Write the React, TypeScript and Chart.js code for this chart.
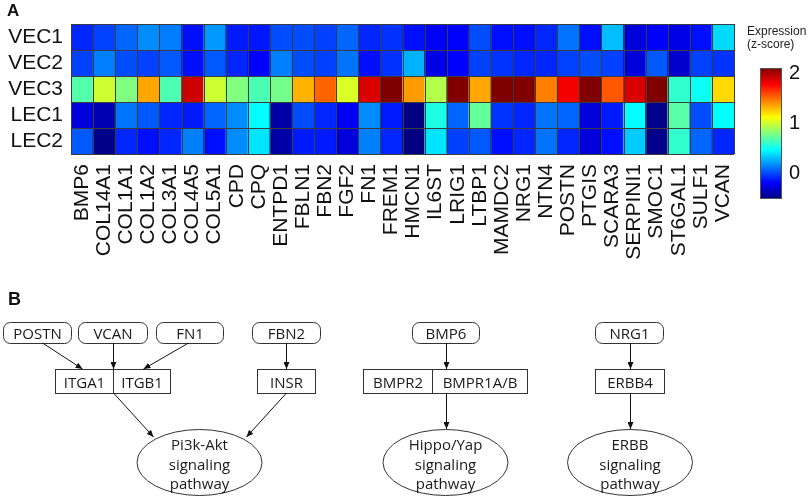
import React, { useEffect, useRef } from "react";
import { Chart, registerables } from "chart.js";

Chart.register(...registerables);

const genes = [
  "BMP6", "COL14A1", "COL1A1", "COL1A2", "COL3A1", "COL4A5", "COL5A1", "CPD", "CPQ", "ENTPD1",
  "FBLN1", "FBN2", "FGF2", "FN1", "FREM1", "HMCN1", "IL6ST", "LRIG1", "LTBP1", "MAMDC2",
  "NRG1", "NTN4", "POSTN", "PTGIS", "SCARA3", "SERPINI1", "SMOC1", "ST6GAL1", "SULF1", "VCAN",
];
const rowNames = ["VEC1", "VEC2", "VEC3", "LEC1", "LEC2"];

const vec1 = [-0.08, -0.01, 0.085, 0.18, 0.14, -0.14, 0.215, -0.11, -0.12, 0.02, 0.02, -0.01, 0.085, -0.08, -0.05, -0.14, -0.2, -0.175, 0.02, -0.14, -0.14, -0.08, 0.12, -0.14, 0.31, -0.27, -0.175, -0.24, -0.14, 0.38];
const vec2 = [-0.01, 0.15, 0.02, -0.01, 0.05, -0.14, 0.05, -0.08, -0.175, 0.15, 0.02, -0.01, 0.12, -0.14, -0.05, 0.28, -0.24, -0.175, -0.01, -0.045, -0.08, -0.08, -0.01, 0.02, -0.01, -0.27, 0.05, -0.3, -0.01, -0.045];
const vec3 = [0.69, 1.0, 0.8, 1.35, 0.67, 1.9, 1.0, 0.8, 0.66, 0.77, 1.32, 1.52, 1.03, 1.87, 2.1, 1.38, 0.93, 2.1, 1.35, 2.1, 2.1, 1.45, 1.8, 2.1, 1.55, 1.87, 2.1, 0.6, 0.5, 1.22];
const lec1 = [-0.27, -0.37, 0.12, 0.05, -0.08, -0.11, 0.085, 0.18, 0.475, -0.4, 0.02, -0.08, -0.2, 0.18, -0.11, -0.5, 0.55, 0.085, 0.73, -0.045, -0.08, 0.12, 0.085, -0.27, -0.11, 0.475, -0.47, 0.7, 0.02, 0.475];
const lec2 = [0.05, -0.47, -0.08, -0.14, -0.08, 0.15, -0.14, 0.18, 0.41, -0.4, -0.11, -0.11, -0.27, 0.15, -0.08, -0.5, 0.41, -0.01, 0.05, -0.14, -0.08, 0.12, -0.08, -0.27, -0.14, 0.345, -0.47, 0.6, 0.085, -0.08];
const rowValues = [vec1, vec2, vec3, lec1, lec2];

const colorMin = -0.5;
const colorMax = 2.1;
const colorbarTicks = [2, 1, 0];

// Panel B diagram content
const ligands = [
  { name: "POSTN", x: 3, w: 68 },
  { name: "VCAN", x: 78, w: 69 },
  { name: "FN1", x: 156, w: 67 },
  { name: "FBN2", x: 252, w: 68 },
  { name: "BMP6", x: 412, w: 67 },
  { name: "NRG1", x: 595, w: 68 },
];
const receptors = [
  { names: ["ITGA1", "ITGB1"], x: 55, w: 115, div: 113 },
  { names: ["INSR"], x: 257, w: 58, div: null },
  { names: ["BMPR2", "BMPR1A/B"], x: 363, w: 164, div: 432 },
  { names: ["ERBB4"], x: 595, w: 69, div: null },
];
const pathways = [
  { lines: ["Pi3k-Akt", "signaling", "pathway"], cx: 199.5 },
  { lines: ["Hippo/Yap", "signaling", "pathway"], cx: 445.5 },
  { lines: ["ERBB", "signaling", "pathway"], cx: 630 },
];
const arrows = [
  [42, 343, 82, 369],
  [113, 343, 113, 369],
  [188, 343, 143, 369],
  [286, 343, 286, 369],
  [113, 393, 153, 437],
  [286, 393, 246, 437],
  [446, 343, 446, 369],
  [446, 393, 446, 429],
  [630, 343, 630, 369],
  [630, 393, 630, 429],
];

const FONT = "'Liberation Sans', Arial, sans-serif";

function jet(v: number): string {
  let t = (v - colorMin) / (colorMax - colorMin);
  t = Math.max(0, Math.min(1, t));
  const c = (x: number) => Math.round(Math.max(0, Math.min(1, x)) * 255);
  const r = c(1.5 - Math.abs(4 * t - 3));
  const g = c(1.5 - Math.abs(4 * t - 2));
  const b = c(1.5 - Math.abs(4 * t - 1));
  return `rgb(${r},${g},${b})`;
}

const gridPlugin = {
  id: "cellGrid",
  afterDatasetsDraw(chart: any) {
    const { ctx, chartArea, scales } = chart;
    const xs = scales.x;
    const ys = scales.y;
    ctx.save();
    ctx.strokeStyle = "#3c3c3c";
    ctx.lineWidth = 1;
    ctx.beginPath();
    for (let i = 0; i <= genes.length; i++) {
      const px = Math.round(xs.getPixelForValue(i - 0.5)) + 0.5;
      ctx.moveTo(px, chartArea.top);
      ctx.lineTo(px, chartArea.bottom);
    }
    for (let r = 0; r <= rowNames.length; r++) {
      const py = Math.round(ys.getPixelForValue(r)) + 0.5;
      ctx.moveTo(chartArea.left, py);
      ctx.lineTo(chartArea.right, py);
    }
    ctx.stroke();
    ctx.restore();
  },
};

const colorbarPlugin = {
  id: "colorbar",
  afterDraw(chart: any) {
    const { ctx, chartArea } = chart;
    const x0 = chartArea.right + 26;
    const w = 22;
    const top = 68;
    const bottom = 199;
    ctx.save();
    const grad = ctx.createLinearGradient(0, bottom, 0, top);
    const steps = 16;
    for (let i = 0; i <= steps; i++) {
      const v = colorMin + ((colorMax - colorMin) * i) / steps;
      grad.addColorStop(i / steps, jet(v));
    }
    ctx.fillStyle = grad;
    ctx.fillRect(x0, top, w, bottom - top);
    ctx.strokeStyle = "#555";
    ctx.lineWidth = 1;
    ctx.strokeRect(x0 + 0.5, top + 0.5, w - 1, bottom - top - 1);
    ctx.fillStyle = "#111";
    ctx.font = `20px ${FONT}`;
    ctx.textAlign = "left";
    ctx.textBaseline = "middle";
    colorbarTicks.forEach((t) => {
      const py = bottom - ((t - colorMin) / (colorMax - colorMin)) * (bottom - top);
      ctx.fillText(String(t), x0 + 29, py);
    });
    ctx.font = `12px ${FONT}`;
    ctx.fillStyle = "#222";
    ctx.fillText("Expression", chartArea.right + 13, 32);
    ctx.fillText("(z-score)", chartArea.right + 13, 45);
    ctx.restore();
  },
};

function Heatmap() {
  const ref = useRef<HTMLCanvasElement | null>(null);
  useEffect(() => {
    if (!ref.current) return;
    const datasets = rowNames.map((name, ri) => ({
      label: name,
      data: genes.map(() => [ri, ri + 1]),
      backgroundColor: rowValues[ri].map((v) => jet(v)),
      borderWidth: 0,
      barPercentage: 1,
      categoryPercentage: 1,
      grouped: false,
    }));
    const chart = new Chart(ref.current, {
      type: "bar",
      data: { labels: genes, datasets: datasets as any },
      options: {
        responsive: false,
        animation: false,
        devicePixelRatio: 1,
        events: [],
        layout: { padding: { top: 24, right: 75, left: 0, bottom: 0 } },
        plugins: { legend: { display: false }, tooltip: { enabled: false } },
        scales: {
          x: {
            type: "category",
            grid: { display: false, drawTicks: false },
            border: { display: false },
            ticks: {
              autoSkip: false,
              maxRotation: 90,
              minRotation: 90,
              padding: 10,
              color: "#111",
              font: { family: FONT, size: 21 },
            },
            afterFit: (s: any) => {
              s.height = 136;
            },
          },
          y: {
            type: "linear",
            min: 0,
            max: 5,
            reverse: true,
            grid: { display: false, drawTicks: false },
            border: { display: false },
            afterBuildTicks: (s: any) => {
              s.ticks = rowNames.map((_, i) => ({ value: i + 0.5 }));
            },
            ticks: {
              padding: 8,
              color: "#111",
              font: { family: FONT, size: 21 },
              callback: (_v: any, i: number) => rowNames[i],
            },
            afterFit: (s: any) => {
              s.width = 71;
            },
          },
        },
      },
      plugins: [gridPlugin, colorbarPlugin],
    });
    return () => chart.destroy();
  }, []);
  return (
    <canvas
      ref={ref}
      width={809}
      height={290}
      style={{ position: "absolute", left: 0, top: 0, width: 809, height: 290 }}
    />
  );
}

function Diagram() {
  const tf = { fontFamily: "'Open Sans', sans-serif", fontSize: 15, fill: "#1a1a1a" };
  const stroke = "#333";
  return (
    <svg
      width={809}
      height={500}
      style={{ position: "absolute", left: 0, top: 0, pointerEvents: "none" }}
    >
      <defs>
        <marker id="ah" markerWidth="7" markerHeight="6" refX="7" refY="3" orient="auto" markerUnits="userSpaceOnUse">
          <path d="M0,0 L7,3 L0,6 z" fill="#111" />
        </marker>
      </defs>
      {ligands.map((l) => (
        <g key={l.name}>
          <rect x={l.x + 0.5} y={322.5} width={l.w} height={21} rx={7} ry={7} fill="white" stroke={stroke} strokeWidth={1} />
          <text x={l.x + l.w / 2 + 0.5} y={333} textAnchor="middle" dominantBaseline="central" {...tf}>
            {l.name}
          </text>
        </g>
      ))}
      {receptors.map((r, i) => (
        <g key={i}>
          <rect x={r.x + 0.5} y={369.5} width={r.w} height={24} fill="white" stroke={stroke} strokeWidth={1} />
          {r.div !== null && <line x1={r.div + 0.5} y1={369.5} x2={r.div + 0.5} y2={393.5} stroke={stroke} strokeWidth={1} />}
          {r.names.length === 1 ? (
            <text x={r.x + r.w / 2 + 0.5} y={381.5} textAnchor="middle" dominantBaseline="central" {...tf}>
              {r.names[0]}
            </text>
          ) : (
            <>
              <text x={(r.x + (r.div as number)) / 2 + 0.5} y={381.5} textAnchor="middle" dominantBaseline="central" {...tf}>
                {r.names[0]}
              </text>
              <text x={((r.div as number) + r.x + r.w) / 2 + 0.5} y={381.5} textAnchor="middle" dominantBaseline="central" {...tf}>
                {r.names[1]}
              </text>
            </>
          )}
        </g>
      ))}
      {pathways.map((p, i) => (
        <g key={i}>
          <ellipse cx={p.cx} cy={462.5} rx={62.5} ry={33} fill="white" stroke={stroke} strokeWidth={1} />
          {p.lines.map((ln, j) => (
            <text key={j} x={p.cx} y={444 + j * 19.5} textAnchor="middle" dominantBaseline="central" {...tf}>
              {ln}
            </text>
          ))}
        </g>
      ))}
      {arrows.map((a, i) => (
        <line key={i} x1={a[0] + 0.5} y1={a[1]} x2={a[2] + 0.5} y2={a[3]} stroke="#111" strokeWidth={1} markerEnd="url(#ah)" />
      ))}
    </svg>
  );
}

export default function App() {
  return (
    <div style={{ position: "absolute", left: 0, top: 0, width: 809, height: 500, background: "white" }}>
      <Heatmap />
      <Diagram />
      <div style={{ position: "absolute", left: 7, top: 1, font: `bold 17px ${FONT}`, color: "#111" }}>A</div>
      <div style={{ position: "absolute", left: 8, top: 289, font: `bold 18px ${FONT}`, color: "#111" }}>B</div>
    </div>
  );
}
